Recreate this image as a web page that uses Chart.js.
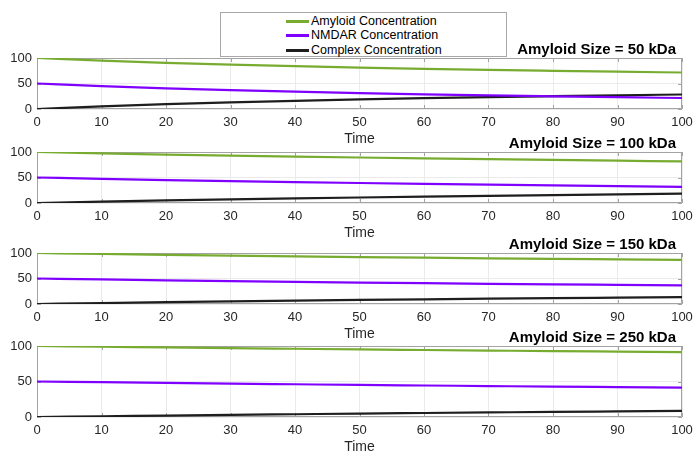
<!DOCTYPE html>
<html>
<head>
<meta charset="utf-8">
<script src="https://cdn.jsdelivr.net/npm/chart.js@4.4.1/dist/chart.umd.min.js"></script>
<style>
  html, body { margin: 0; padding: 0; background: #fff; width: 694px; height: 452px; overflow: hidden;
               font-family: "Liberation Sans", Arial, sans-serif; }
  canvas { position: absolute; left: 0; }
  #legend { position: absolute; left: 220px; top: 12px; width: 285px; height: 43px;
            border: 1px solid #a8a8a8; background: #fff; z-index: 5; }
  .item { position: absolute; left: 0; width: 100%; height: 14px; font-size: 12.5px; line-height: 14px; color: #000; }
  .item .sw { position: absolute; left: 65px; top: 6px; width: 23px; height: 2.5px; }
  .item .tx { position: absolute; left: 90px; top: 0; white-space: nowrap; }
</style>
</head>
<body>
<div id="legend"></div>
<script>
// Simulation time points
const times = [0, 10, 20, 30, 40, 50, 60, 70, 80, 90, 100];

// Amyloid size = 50 kDa
const amyloid50 = [100, 95.0, 90.6, 87.0, 83.9, 81.1, 78.7, 76.6, 74.8, 73.1, 71.6];
const nmdar50   = [50, 45.0, 40.6, 37.0, 33.9, 31.1, 28.7, 26.6, 24.8, 23.1, 21.6];
const complex50 = [0, 5.0, 9.4, 13.0, 16.1, 18.9, 21.3, 23.4, 25.2, 26.9, 28.4];

// Amyloid size = 100 kDa
const amyloid100 = [100, 97.4, 95.0, 92.9, 91.0, 89.2, 87.5, 85.9, 84.4, 83.0, 81.6];
const nmdar100   = [50, 47.4, 45.0, 42.9, 41.0, 39.2, 37.5, 35.9, 34.4, 33.0, 31.6];
const complex100 = [0, 2.6, 5.0, 7.1, 9.0, 10.8, 12.5, 14.1, 15.6, 17.0, 18.4];

// Amyloid size = 150 kDa
const amyloid150 = [100, 98.2, 96.5, 95.0, 93.5, 92.1, 90.8, 89.6, 88.5, 87.5, 86.5];
const nmdar150   = [50, 48.2, 46.5, 45.0, 43.5, 42.1, 40.8, 39.6, 38.5, 37.5, 36.5];
const complex150 = [0, 1.8, 3.5, 5.0, 6.5, 7.9, 9.2, 10.4, 11.5, 12.5, 13.5];

// Amyloid size = 250 kDa
const amyloid250 = [100, 99.0, 98.0, 97.0, 96.1, 95.2, 94.4, 93.6, 92.8, 92.1, 91.4];
const nmdar250   = [50, 49.0, 48.0, 47.0, 46.1, 45.2, 44.4, 43.6, 42.8, 42.1, 41.4];
const complex250 = [0, 1.0, 2.0, 3.0, 3.9, 4.8, 5.6, 6.4, 7.2, 7.9, 8.6];

const seriesNames = ['Amyloid Concentration', 'NMDAR Concentration', 'Complex Concentration'];
const panelTitles = ['Amyloid Size = 50 kDa', 'Amyloid Size = 100 kDa', 'Amyloid Size = 150 kDa', 'Amyloid Size = 250 kDa'];
const xTicksStep = 10;
const yTicksStep = 50;

const panelSeries = [
  [amyloid50, nmdar50, complex50],
  [amyloid100, nmdar100, complex100],
  [amyloid150, nmdar150, complex150],
  [amyloid250, nmdar250, complex250]
];

// Layout of each axes box (plot-area top and height, px)
const plotTops    = [58, 152, 253, 346];
const plotHeights = [51, 51, 51, 71];
const colors = ['#77AC30', '#7F00FF', '#1E1E1E'];
const FONT = '"Liberation Sans", Arial, sans-serif';
const PAD_TOP = 22, X_H = 39, Y_W = 37, PAD_RIGHT = 12;

// Legend
const legend = document.getElementById('legend');
const legendRows = [8, 22, 37];
seriesNames.forEach((name, i) => {
  const row = document.createElement('div');
  row.className = 'item';
  row.style.top = (legendRows[i] - 7) + 'px';
  row.innerHTML = '<span class="sw" style="background:' + colors[i] + '"></span><span class="tx">' + name + '</span>';
  legend.appendChild(row);
});

// Axes box, inward tick marks and the panel title
const axesFrame = {
  id: 'axesFrame',
  beforeDatasetsDraw(chart) {
    const { ctx, chartArea: { left, top, right, bottom }, scales: { x, y } } = chart;
    ctx.save();
    ctx.strokeStyle = '#a3a3a3';
    ctx.lineWidth = 1;
    ctx.beginPath();
    ctx.rect(left + 0.5, top + 0.5, right - left - 1, bottom - top - 1);
    x.ticks.forEach(t => {
      const px = Math.round(x.getPixelForValue(t.value)) + 0.5;
      ctx.moveTo(px, bottom); ctx.lineTo(px, bottom - 4);
      ctx.moveTo(px, top); ctx.lineTo(px, top + 4);
    });
    y.ticks.forEach(t => {
      const py = Math.round(y.getPixelForValue(t.value)) + 0.5;
      ctx.moveTo(left, py); ctx.lineTo(left + 4, py);
      ctx.moveTo(right, py); ctx.lineTo(right - 4, py);
    });
    ctx.stroke();
    ctx.restore();
  },
  afterDraw(chart, args, opts) {
    const { ctx, chartArea: { top, right } } = chart;
    ctx.save();
    ctx.font = 'bold 15px ' + FONT;
    ctx.fillStyle = '#000';
    ctx.textAlign = 'right';
    ctx.textBaseline = 'middle';
    ctx.fillText(opts.text, right - 6, top - 8);
    ctx.restore();
  }
};

panelSeries.forEach((series, p) => {
  const canvas = document.createElement('canvas');
  const h = PAD_TOP + plotHeights[p] + X_H;
  canvas.width = 694;
  canvas.height = h;
  canvas.style.top = (plotTops[p] - PAD_TOP) + 'px';
  document.body.appendChild(canvas);

  new Chart(canvas, {
    type: 'line',
    data: {
      datasets: series.map((vals, i) => ({
        label: seriesNames[i],
        data: times.map((t, j) => ({ x: t, y: vals[j] })),
        borderColor: colors[i],
        backgroundColor: colors[i],
        borderWidth: 2.2,
        pointRadius: 0,
        cubicInterpolationMode: 'monotone',
        fill: false
      }))
    },
    options: {
      responsive: false,
      animation: false,
      events: [],
      layout: { padding: { top: PAD_TOP, right: PAD_RIGHT, left: 0, bottom: 0 } },
      plugins: {
        legend: { display: false },
        tooltip: { enabled: false },
        axesFrame: { text: panelTitles[p] }
      },
      scales: {
        x: {
          type: 'linear', min: 0, max: 100,
          ticks: { stepSize: xTicksStep, color: '#262626', font: { size: 13, family: FONT }, padding: 6, maxRotation: 0, autoSkip: false },
          grid: { color: '#ebebeb', drawTicks: false },
          border: { display: false },
          title: { display: true, text: 'Time', color: '#262626', font: { size: 14, family: FONT }, padding: 0 },
          afterFit(s) { s.height = X_H; s.paddingLeft = 0; s.paddingRight = 0; }
        },
        y: {
          min: 0, max: 100,
          ticks: { stepSize: yTicksStep, color: '#262626', font: { size: 13, family: FONT }, padding: 5 },
          grid: { color: '#ebebeb', drawTicks: false },
          border: { display: false },
          afterFit(s) { s.width = Y_W; s.paddingTop = 0; s.paddingBottom = 0; }
        }
      }
    },
    plugins: [axesFrame]
  });
});
</script>
</body>
</html>
